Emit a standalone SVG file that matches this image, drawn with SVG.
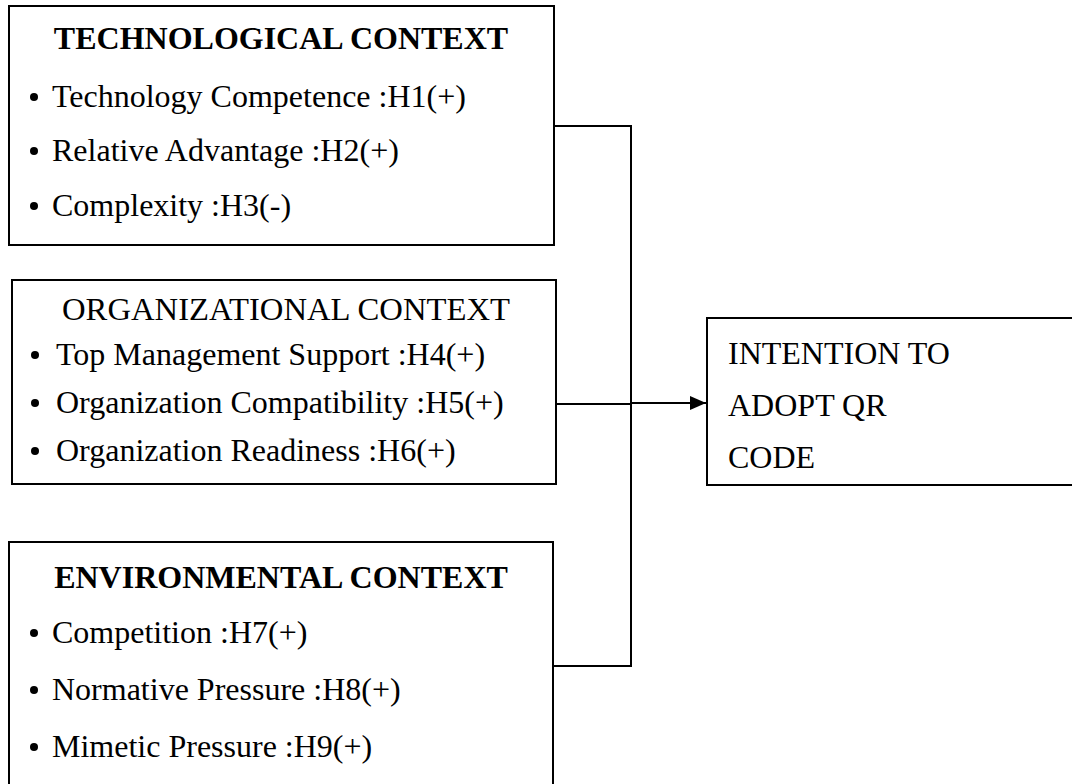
<svg xmlns="http://www.w3.org/2000/svg" width="1072" height="784" viewBox="0 0 1072 784">
<style>
.box{fill:#fff;stroke:#000;stroke-width:2}
.t{font-family:"Liberation Serif","Times New Roman",serif;font-size:32px;fill:#000}
.b{font-weight:bold}
.c{stroke:#000;stroke-width:2;fill:none}
.dot{fill:#000}
</style>
<defs>
<marker id="arr" markerWidth="16" markerHeight="14" refX="16" refY="7" orient="auto" markerUnits="userSpaceOnUse">
<path d="M0,0 L16,7 L0,14 Z" fill="#000"/>
</marker>
</defs>
<rect width="1072" height="784" fill="#fff"/>
<g id="connectors">
<path class="c" d="M554,126 H631 V666 H554"/>
<path class="c" d="M556,404 H631"/>
<path class="c" d="M631,403 H706" marker-end="url(#arr)"/>
</g>
<g id="tech">
<rect class="box" x="9" y="6" width="545" height="239"/>
<text class="t b" x="281" y="49" text-anchor="middle">TECHNOLOGICAL CONTEXT</text>
<circle class="dot" cx="34" cy="97" r="4"/>
<text class="t" x="52" y="107">Technology Competence :H1(+)</text>
<circle class="dot" cx="34" cy="151" r="4"/>
<text class="t" x="52" y="161">Relative Advantage :H2(+)</text>
<circle class="dot" cx="34" cy="206" r="4"/>
<text class="t" x="52" y="216">Complexity :H3(-)</text>
</g>
<g id="org">
<rect class="box" x="12" y="280" width="544" height="204"/>
<text class="t" x="286" y="320" text-anchor="middle" textLength="448" lengthAdjust="spacingAndGlyphs">ORGANIZATIONAL CONTEXT</text>
<circle class="dot" cx="35" cy="355" r="4"/>
<text class="t" x="56" y="365">Top Management Support :H4(+)</text>
<circle class="dot" cx="35" cy="403" r="4"/>
<text class="t" x="56" y="413">Organization Compatibility :H5(+)</text>
<circle class="dot" cx="35" cy="451" r="4"/>
<text class="t" x="56" y="461">Organization Readiness :H6(+)</text>
</g>
<g id="env">
<rect class="box" x="9" y="542" width="544" height="250"/>
<text class="t b" x="281" y="588" text-anchor="middle">ENVIRONMENTAL CONTEXT</text>
<circle class="dot" cx="34" cy="633" r="4"/>
<text class="t" x="52" y="643">Competition :H7(+)</text>
<circle class="dot" cx="34" cy="690" r="4"/>
<text class="t" x="52" y="700">Normative Pressure :H8(+)</text>
<circle class="dot" cx="34" cy="747" r="4"/>
<text class="t" x="52" y="757">Mimetic Pressure :H9(+)</text>
</g>
<g id="intention">
<rect class="box" x="707" y="318" width="380" height="167"/>
<text class="t" x="728" y="364">INTENTION TO</text>
<text class="t" x="728" y="416">ADOPT QR</text>
<text class="t" x="728" y="468">CODE</text>
</g>
</svg>
